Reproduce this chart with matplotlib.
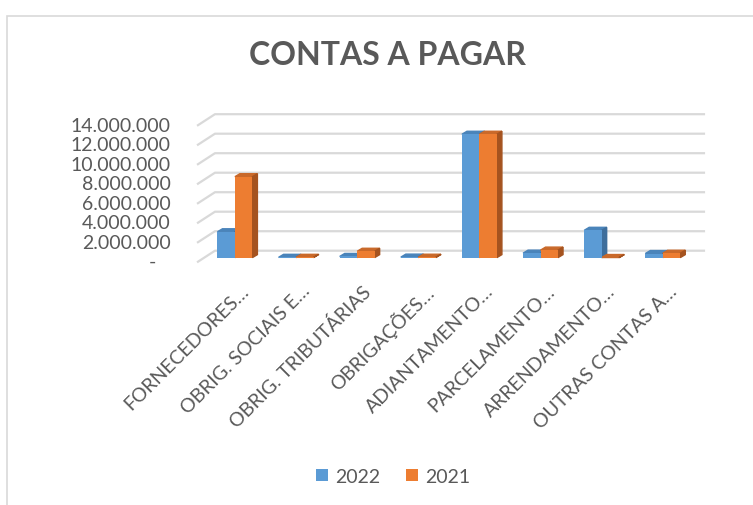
"""Grafico 'CONTAS A PAGAR': colunas agrupadas com efeito 3D (estilo Excel)."""

import matplotlib

matplotlib.use("Agg")
import matplotlib.pyplot as plt
from matplotlib.patches import Patch, Polygon, Rectangle

# Dados
categorias = [
    "FORNECEDORES…",
    "OBRIG. SOCIAIS E…",
    "OBRIG. TRIBUTÁRIAS",
    "OBRIGAÇÕES…",
    "ADIANTAMENTO…",
    "PARCELAMENTO…",
    "ARRENDAMENTO…",
    "OUTRAS CONTAS A…",
]
valores_2022 = [2_650_000, 30_000, 120_000, 50_000, 12_650_000, 460_000, 2_800_000, 420_000]
valores_2021 = [8_300_000, 30_000, 650_000, 40_000, 12_650_000, 770_000, 10_000, 450_000]
series = ["2022", "2021"]
ticks_y = [0, 2_000_000, 4_000_000, 6_000_000, 8_000_000, 10_000_000, 12_000_000, 14_000_000]
rotulos_y = ["-   ", "2.000.000", "4.000.000", "6.000.000", "8.000.000",
             "10.000.000", "12.000.000", "14.000.000"]

# Estilo
CINZA_TEXTO = "#595959"
CINZA_GRADE = "#d9d9d9"
CORES = {  # frente, topo, lateral
    "2022": ("#5B9BD5", "#4A84BA", "#3E6E9C"),
    "2021": ("#ED7D31", "#C9692A", "#A5531F"),
}
FONTE = "Lato"
LARGURA = 0.286
PROF_BARRA = (5, 3)      # deslocamento em px da face de tras das barras
FUNDO = (10.6, 6.9)      # parede do fundo em relacao ao plano das barras
FRENTE = (-6.4, -4.1)    # borda da frente do piso

plt.rcParams["font.family"] = [FONTE, "DejaVu Sans"]

fig = plt.figure(figsize=(7.53, 5.06), dpi=100)
ax = fig.add_axes([0.2714, 0.4889, 0.6494, 0.2698])
ax.set_xlim(-0.5, len(categorias) - 0.5)
ax.set_ylim(0, 14_000_000)
ax.axis("off")


def desloc(x, y, dx, dy):
    """Ponto (x, y) em dados deslocado dx, dy pixels na tela."""
    px = ax.transData.transform((x, y))
    return ax.transData.inverted().transform((px[0] + dx, px[1] + dy))


# Grade na parede do fundo + parede lateral esquerda
xmin, xmax = ax.get_xlim()
for v in ticks_y:
    pontos = [desloc(xmin, v, *FRENTE), desloc(xmin, v, *FUNDO), desloc(xmax, v, *FUNDO)]
    ax.plot([p[0] for p in pontos], [p[1] for p in pontos], color=CINZA_GRADE,
            lw=1.6, clip_on=False, zorder=0)

for v, rot in zip(ticks_y, rotulos_y):
    px, py = desloc(xmin, v, FRENTE[0] - 27, FRENTE[1])
    ax.text(px, py, rot, ha="right", va="center", fontsize=14, color=CINZA_TEXTO,
            clip_on=False)

# Barras 3D
for j, (serie, valores) in enumerate(zip(series, [valores_2022, valores_2021])):
    frente, topo, lado = CORES[serie]
    for i, h in enumerate(valores):
        x0 = i - LARGURA + j * LARGURA
        x1 = x0 + LARGURA
        ax.bar(x0, h, LARGURA, align="edge", color=frente, zorder=3, clip_on=False)
        face_topo = [(x0, h), (x1, h), desloc(x1, h, *PROF_BARRA), desloc(x0, h, *PROF_BARRA)]
        face_lado = [(x1, 0), (x1, h), desloc(x1, h, *PROF_BARRA), desloc(x1, 0, *PROF_BARRA)]
        ax.add_patch(Polygon(face_topo, closed=True, color=topo, zorder=2, clip_on=False))
        ax.add_patch(Polygon(face_lado, closed=True, color=lado, zorder=2, clip_on=False))

# Rotulos das categorias (45 graus)
for i, cat in enumerate(categorias):
    px, py = desloc(i, 0, 5, -24)
    ax.text(px, py, cat, rotation=45, rotation_mode="anchor", ha="right", va="top",
            fontsize=14, color=CINZA_TEXTO, clip_on=False)

fig.text(0.515, 0.891, "CONTAS A PAGAR", ha="center", va="center", fontsize=23,
         fontweight="bold", color=CINZA_TEXTO)

handles = [Patch(facecolor=CORES[s][0], label=s) for s in series]
fig.legend(handles=handles, loc="center", bbox_to_anchor=(0.522, 0.057), ncol=2,
           frameon=False, fontsize=14, handlelength=0.6, handleheight=0.6,
           handletextpad=0.35, columnspacing=1.35, labelcolor=CINZA_TEXTO)

# Moldura da area do grafico
fig.add_artist(Rectangle((7 / 753, -0.1), 2, 1.1 - 17 / 506, transform=fig.transFigure,
                         fill=False, edgecolor=CINZA_GRADE, lw=1.2))

fig.savefig("out.png", dpi=100)
